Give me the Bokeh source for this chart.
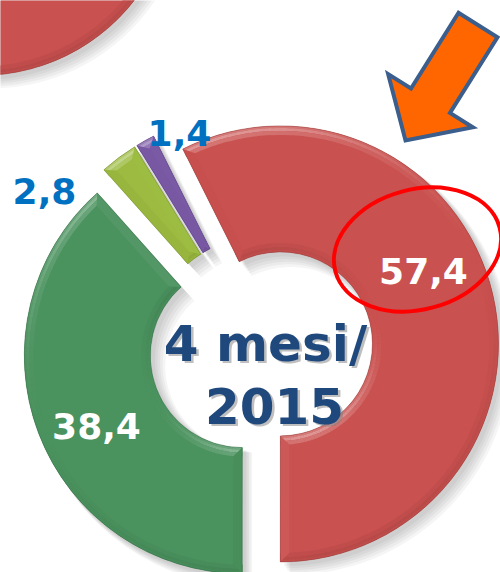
import numpy as np
from bokeh.plotting import figure
from bokeh.models import Range1d
from bokeh.embed import file_html
from bokeh.resources import INLINE
from bokeh.core.properties import value

# ---------------- data ----------------
categories = ["Serie A", "Serie B", "Serie C", "Serie D"]
values = [57.4, 38.4, 2.8, 1.4]
labels = ["57,4", "38,4", "2,8", "1,4"]
colors = ["#C9514F", "#4A925E", "#9CBB40", "#7A58A5"]
center_lines = ["4 mesi/", "2015"]

# ---------------- layout / style ----------------
W, H = 500, 572
FIRST_ANGLE = 333.4          # degrees, clockwise from 12 o'clock
CX, CY = 260.5, H - 348      # donut centre (data coords, y up)
R_OUT, R_IN = 218, 92
EXPLODE = 20
BEVEL = 9
SUB = [(0, 2, 0.55), (2, 5, 0.9), (5, 9, 0.45)]   # sub-bands from edge inward
FONT = value("DejaVu Sans")
LIGHT = np.array([-0.36, 0.93])
LIGHT = LIGHT / np.linalg.norm(LIGHT)


def hex2rgb(h):
    h = h.lstrip("#")
    return np.array([int(h[i:i + 2], 16) for i in (0, 2, 4)], dtype=float)


def rgb2hex(c):
    c = np.clip(np.round(c), 0, 255).astype(int)
    return "#%02x%02x%02x" % tuple(c)


def shade(base, normal, w=1.0):
    d = float(np.dot(normal, LIGHT))
    c = hex2rgb(base)
    if d > 0:
        d = d ** 2
        c = c + (255 - c) * 0.45 * d * w
    else:
        c = c * (1 - 0.10 * (-d) * w)
    return rgb2hex(c)


def dark(base, f=0.72):
    return rgb2hex(hex2rgb(base) * f)


p = figure(width=W, height=H, output_backend="svg", toolbar_location=None,
           x_range=Range1d(0, W), y_range=Range1d(0, H), min_border=0)
p.axis.visible = False
p.grid.visible = False
p.outline_line_color = None
p.background_fill_color = "white"
p.border_fill_color = "white"


def bevel_ring(cx, cy, r_in, r_out, a0, a1, color, caps=True):
    """a0 < a1 in math radians (anticlockwise)."""
    p.annular_wedge(x=cx, y=cy, inner_radius=r_in, outer_radius=r_out,
                    start_angle=a0, end_angle=a1, fill_color=color,
                    line_color=None)
    span = a1 - a0
    n = max(2, int(np.degrees(span) / 2.0))
    edges = np.linspace(a0, a1, n + 1)
    mids = (edges[:-1] + edges[1:]) / 2
    for s0, s1, w in SUB:
        outer_cols = [shade(color, np.array([np.cos(m), np.sin(m)]), w) for m in mids]
        p.annular_wedge(x=cx, y=cy, inner_radius=r_out - s1, outer_radius=r_out - s0,
                        start_angle=edges[:-1], end_angle=edges[1:] + 0.002,
                        fill_color=outer_cols, line_color=None)
        if r_in > 0:
            inner_cols = [shade(color, -np.array([np.cos(m), np.sin(m)]), w) for m in mids]
            p.annular_wedge(x=cx, y=cy, inner_radius=r_in + s0, outer_radius=r_in + s1,
                            start_angle=edges[:-1], end_angle=edges[1:] + 0.002,
                            fill_color=inner_cols, line_color=None)
    if caps:
        xs, ys, cs = [], [], []
        for ang, sgn in ((a0, 1), (a1, -1)):
            ca, sa = np.cos(ang), np.sin(ang)
            normal = np.array([sa, -ca]) * sgn
            ri, ro = r_in, r_out
            d_o = BEVEL / (ro - BEVEL)
            d_i = BEVEL / (ri + BEVEL)
            a_o = ang + sgn * d_o
            a_i = ang + sgn * d_i
            px = [cx + ri * ca, cx + ro * ca,
                  cx + (ro - BEVEL) * np.cos(a_o), cx + (ri + BEVEL) * np.cos(a_i)]
            py = [cy + ri * sa, cy + ro * sa,
                  cy + (ro - BEVEL) * np.sin(a_o), cy + (ri + BEVEL) * np.sin(a_i)]
            xs.append(px)
            ys.append(py)
            cs.append(shade(color, normal, 0.8))
        p.patches(xs=xs, ys=ys, fill_color=cs, line_color=None)
    p.annular_wedge(x=cx, y=cy, inner_radius=r_in, outer_radius=r_out,
                    start_angle=a0, end_angle=a1, fill_color=None,
                    line_color=dark(color), line_width=0.8, line_alpha=0.6)


def shadow(cx, cy, r_in, r_out, a0, a1):
    for k in range(1, 6):
        off = 2 + k * 1.6
        p.annular_wedge(x=cx + off, y=cy - off, inner_radius=max(0, r_in - k),
                        outer_radius=r_out + k * 0.6, start_angle=a0, end_angle=a1,
                        fill_color="black", fill_alpha=0.04, line_color=None)


# ---------- decorative big circle (top-left, partly outside) ----------
BIG_X, BIG_Y, BIG_R = -20, H + 120, 195
shadow(BIG_X, BIG_Y, 0, BIG_R, 0, 2 * np.pi)
bevel_ring(BIG_X, BIG_Y, 0, BIG_R, 0, 2 * np.pi - 1e-4, colors[0], caps=False)

# ---------- donut slices ----------
vals = np.array(values, dtype=float)
fracs = vals / vals.sum()
theta_start = FIRST_ANGLE + 360 * np.concatenate([[0], np.cumsum(fracs)[:-1]])
theta_end = theta_start + 360 * fracs
geo = []
for t0, t1 in zip(theta_start, theta_end):
    mid = np.radians((t0 + t1) / 2)
    cx = CX + EXPLODE * np.sin(mid)
    cy = CY + EXPLODE * np.cos(mid)
    a0 = np.radians(90 - t1)
    a1 = np.radians(90 - t0)
    geo.append((cx, cy, a0, a1))

for (cx, cy, a0, a1) in geo:
    shadow(cx, cy, R_IN, R_OUT, a0, a1)
for (cx, cy, a0, a1), col in zip(geo, colors):
    bevel_ring(cx, cy, R_IN, R_OUT, a0, a1, col)

# ---------- labels ----------
lab_x = [423, 96, 44, 179]
lab_y = [H - 270, H - 425, H - 190, H - 132]
lab_col = ["white", "white", "#0070C0", "#0070C0"]
p.text(x=lab_x, y=lab_y, text=labels, text_font=FONT, text_font_style="bold",
       text_font_size="36px", text_align="center", text_baseline="alphabetic",
       text_color=lab_col)

# ---------- centre text ----------
ct_x = [265, 274]
ct_y = [H - 343, H - 405]
p.text(x=[x + 2.5 for x in ct_x], y=[y - 2.5 for y in ct_y], text=center_lines,
       text_font=FONT, text_font_style="bold", text_font_size="50px",
       text_align="center", text_baseline="alphabetic", text_color="#7f7f7f",
       text_alpha=0.5)
p.text(x=ct_x, y=ct_y, text=center_lines, text_font=FONT, text_font_style="bold",
       text_font_size="50px", text_align="center", text_baseline="alphabetic",
       text_color="#1F497D")

# ---------- red ellipse highlight ----------
p.ellipse(x=[417], y=[H - 249], width=[170], height=[120], angle=[np.radians(15)],
          fill_color=None, line_color="#FF0000", line_width=4)

# ---------- orange arrow ----------
tail = np.array([477.5, 24.5])
tip = np.array([405.0, 140.0])
u = (tip - tail) / np.linalg.norm(tip - tail)
nrm = np.array([-u[1], u[0]])
hw, hh, hl = 23, 50, 47
base = tip - u * hl
pts = [tail + nrm * hw, base + nrm * hw, base + nrm * hh, tip,
       base - nrm * hh, base - nrm * hw, tail - nrm * hw]
ax = [pt[0] for pt in pts]
ay = [H - pt[1] for pt in pts]
p.patch(x=ax, y=ay, fill_color="#FF6600", line_color="#3B5E8C", line_width=4,
        line_join="miter")

open("out.html", "w").write(file_html(p, INLINE))
